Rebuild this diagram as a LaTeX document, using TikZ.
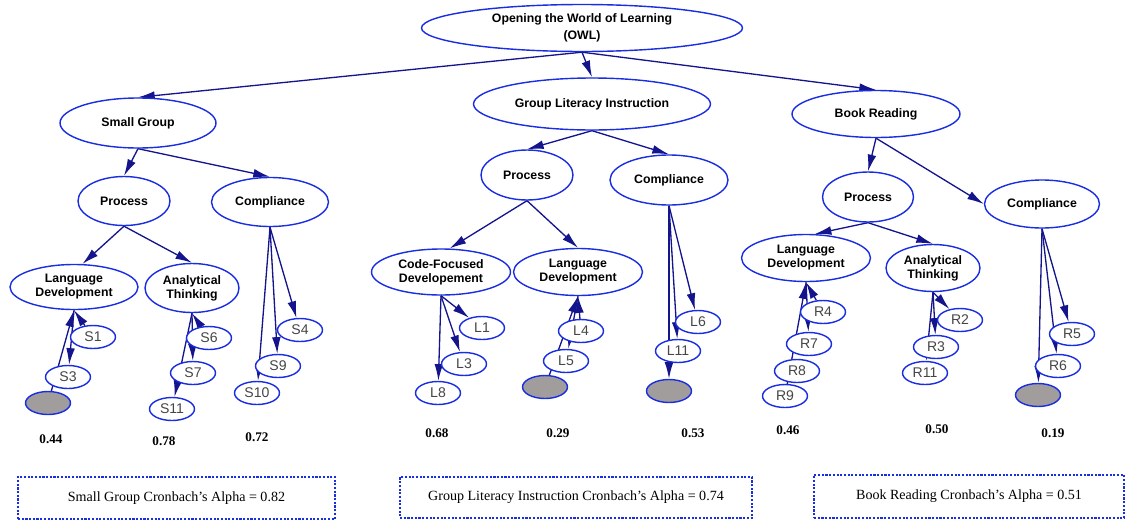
\documentclass[tikz,border=0pt]{standalone}
\usepackage{fontspec}
\setmainfont{Liberation Serif}
\setsansfont{Liberation Sans}
\usetikzlibrary{arrows.meta, shapes.geometric, backgrounds}

\definecolor{ringblue}{RGB}{25,45,225}
\definecolor{pathnavy}{RGB}{20,20,140}
\definecolor{errgray}{RGB}{162,157,157}
\definecolor{itemgray}{RGB}{70,70,70}

\tikzset{
  factor/.style={ellipse, draw=ringblue, line width=0.8pt, fill=white, inner sep=0pt, align=center,
    font=\sffamily\bfseries\fontsize{7}{8}\selectfont},
  item/.style={ellipse, draw=ringblue, line width=0.8pt, fill=white, inner sep=0pt,
    minimum width=0.9cm, minimum height=0.46cm, text=itemgray, font=\sffamily\fontsize{8}{9}\selectfont},
  errterm/.style={item, fill=errgray},
  link/.style={-{Latex[length=9.5pt,width=5pt]}, draw=pathnavy, line width=0.75pt},
  alphabox/.style={draw=ringblue, dash pattern=on 1.2pt off 0.9pt, line width=0.7pt,
    font=\fontsize{8}{9}\selectfont},
  val/.style={font=\bfseries\fontsize{7.5}{9}\selectfont}
}

\begin{document}
\begin{tikzpicture}[x=0.02cm, y=-0.02cm]
    \useasboundingbox (0,0) rectangle (1125,521);

    % top levels
    \node [factor, minimum width=6.42cm, minimum height=0.94cm, font=\sffamily\bfseries\fontsize{7}{9.5}\selectfont] (owl) at (582,28) {Opening the World of Learning\\(OWL)};
    \node [factor, minimum width=3.12cm, minimum height=1.0cm] (sg) at (138,123) {Small Group};
    \node [factor, minimum width=4.74cm, minimum height=1.04cm] (gli) at (592,104) {Group Literacy Instruction};
    \node [factor, minimum width=3.36cm, minimum height=0.94cm] (br) at (876,114) {Book Reading};

    \node [factor, minimum width=1.84cm, minimum height=0.98cm] (sgProc) at (124,201) {Process};
    \node [factor, minimum width=2.34cm, minimum height=0.98cm] (sgComp) at (270,202) {Compliance};
    \node [factor, minimum width=1.84cm, minimum height=1.0cm] (gliProc) at (527,175) {Process};
    \node [factor, minimum width=2.36cm, minimum height=1.0cm] (gliComp) at (669,180) {Compliance};
    \node [factor, minimum width=1.82cm, minimum height=1.0cm] (brProc) at (868,197) {Process};
    \node [factor, minimum width=2.3cm, minimum height=0.96cm] (brComp) at (1042,204) {Compliance};

    \node [factor, minimum width=2.56cm, minimum height=0.9cm] (sgLang) at (74,287) {Language\\Development};
    \node [factor, minimum width=1.88cm, minimum height=0.98cm] (sgThink) at (192,288) {Analytical\\Thinking};
    \node [factor, minimum width=2.78cm, minimum height=0.92cm] (gliCode) at (441,272) {Code-Focused\\Developement};
    \node [factor, minimum width=2.58cm, minimum height=0.94cm] (gliLang) at (578,272) {Language\\Development};
    \node [factor, minimum width=2.58cm, minimum height=0.94cm] (brLang) at (806,258) {Language\\Development};
    \node [factor, minimum width=1.88cm, minimum height=0.94cm] (brThink) at (933,268) {Analytical\\Thinking};

    % items
    \node [item] (S1) at (93,337) {S1};
    \node [item] (S3) at (68,377) {S3};
    \node [errterm] (sgErr) at (48,403) {};
    \node [item] (S6) at (209,338) {S6};
    \node [item] (S7) at (193,373) {S7};
    \node [item] (S11) at (172,409) {S11};
    \node [item] (S4) at (300,330) {S4};
    \node [item] (S9) at (278,366) {S9};
    \node [item] (S10) at (257,393) {S10};

    \node [item] (L1) at (482,328) {L1};
    \node [item] (L3) at (464,364) {L3};
    \node [item] (L8) at (438,393) {L8};
    \node [item] (L4) at (581,331) {L4};
    \node [item] (L5) at (566,361) {L5};
    \node [errterm] (gliErr) at (545,387) {};
    \node [item] (L6) at (698,322) {L6};
    \node [item] (L11) at (678,351) {L11};
    \node [errterm] (gliCompErr) at (669,391) {};

    \node [item] (R4) at (823,312) {R4};
    \node [item] (R7) at (809,344) {R7};
    \node [item] (R8) at (797,371) {R8};
    \node [item] (R9) at (785,396) {R9};
    \node [item] (R2) at (960,320) {R2};
    \node [item] (R3) at (936,347) {R3};
    \node [item] (R11) at (925,373) {R11};
    \node [item] (R5) at (1072,334) {R5};
    \node [item] (R6) at (1058,366) {R6};
    \node [errterm] (brErr) at (1038,395) {};

    \begin{scope}[on background layer]
        \draw [link] (owl.south) -- (sg.north);
        \draw [link] (owl.south) -- (gli.north);
        \draw [link] (owl.south) -- (br.north);
        \draw [link] (sg.south) -- (sgProc.north);
        \draw [link] (sg.south) -- (sgComp.north);
        \draw [link] (gli.south) -- (gliProc.north);
        \draw [link] (gli.south) -- (gliComp.north);
        \draw [link] (br.south) -- (brProc.north);
        \draw [link] (br.south) -- (brComp.west);

        \draw [link] (sgProc.south) -- (sgLang.70);
        \draw [link] (sgProc.south) -- (sgThink.north);
        \draw [link] (gliProc.south) -- (gliCode.70);
        \draw [link] (gliProc.south) -- (gliLang.north);
        \draw [link] (brProc.south) -- (brLang.70);
        \draw [link] (brProc.south) -- (brThink.north);

        \draw [link] (S1) -- (sgLang.south);
        \draw [link] (sgLang.south) -- (S3);
        \draw [link] (sgErr) -- (sgLang.south);
        \draw [link] (S6) -- (sgThink.south);
        \draw [link] (sgThink.south) -- (S7);
        \draw [link] (sgThink.south) -- (S11);
        \draw [link] (sgComp.south) -- (S4);
        \draw [link] (sgComp.south) -- (S9);
        \draw [link] (sgComp.south) -- (S10);

        \draw [link] (gliCode.south) -- (L1);
        \draw [link] (gliCode.south) -- (L3);
        \draw [link] (gliCode.south) -- (L8);
        \draw [link] (L4) -- (gliLang.south);
        \draw [link] (gliLang.south) -- (L5);
        \draw [link] (gliErr) -- (gliLang.south);
        \draw [link] (gliComp.south) -- (L6);
        \draw [link] (gliComp.south) -- (L11);
        \draw [link] (gliComp.south) -- (gliCompErr);

        \draw [link] (R4) -- (brLang.south);
        \draw [link] (brLang.south) -- (R7);
        \draw [link] (R9) -- (brLang.south);
        \draw [link] (brThink.south) -- (R2);
        \draw [link] (brThink.south) -- (R3);
        \draw [link] (brThink.south) -- (R11);
        \draw [link] (brComp.south) -- (R5);
        \draw [link] (brComp.south) -- (R6);
        \draw [link] (brComp.south) -- (brErr);
    \end{scope}

    % reliabilities
    \node [val] (vSgLang) at (51,439) {0.44};
    \node [val] (vSgThink) at (164,441) {0.78};
    \node [val] (vSgComp) at (257,437) {0.72};
    \node [val] (vGliCode) at (437,433) {0.68};
    \node [val] (vGliLang) at (558,433) {0.29};
    \node [val] (vGliComp) at (693,433) {0.53};
    \node [val] (vBrLang) at (788,430) {0.46};
    \node [val] (vBrThink) at (937,429) {0.50};
    \node [val] (vBrComp) at (1053,433) {0.19};

    \node [alphabox, minimum width=6.34cm, minimum height=0.84cm] (sgAlpha) at (176.5,498) {Small Group Cronbach's Alpha = 0.82};
    \node [alphabox, minimum width=7.04cm, minimum height=0.82cm] (gliAlpha) at (576,497.5) {Group Literacy Instruction Cronbach's Alpha = 0.74};
    \node [alphabox, minimum width=6.2cm, minimum height=0.86cm] (brAlpha) at (969,496.5) {Book Reading Cronbach's Alpha = 0.51};
\end{tikzpicture}
\end{document}
